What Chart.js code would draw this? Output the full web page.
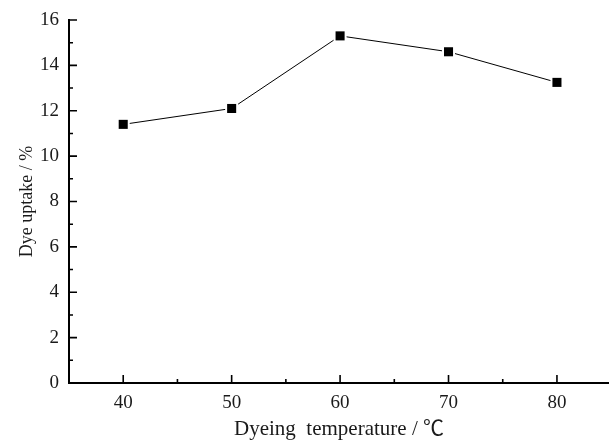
<!DOCTYPE html>
<html><head><meta charset="utf-8">
<script src="https://cdn.jsdelivr.net/npm/chart.js@4/dist/chart.umd.min.js"></script>
<style>html,body{margin:0;padding:0;background:#fff;overflow:hidden}#wrap{width:609px;height:442px;position:relative}</style>
</head><body><div id="wrap"><canvas id="c" width="609" height="442"></canvas></div>
<script>
const temperatures = [40, 50, 60, 70, 80];
const dyeUptake = [11.4, 12.1, 15.3, 14.6, 13.25];
const xMajorTicks = [40, 50, 60, 70, 80];
const xMinorTicks = [45, 55, 65, 75];
const yMajorTicks = [0, 2, 4, 6, 8, 10, 12, 14, 16];
const yMinorTicks = [1, 3, 5, 7, 9, 11, 13, 15];
const xTitle = 'Dyeing  temperature / \u2103';
const yTitle = 'Dye uptake / %';

const FONT = '"Liberation Serif", "Times New Roman", "Noto Sans CJK SC", serif';
const TEXT = '#1a1a1a';
const points = temperatures.map((t, i) => ({x: t, y: dyeUptake[i]}));

const inwardTicks = {
  id: 'inwardTicks',
  afterDraw(chart) {
    const ctx = chart.ctx, xs = chart.scales.x, ys = chart.scales.y;
    const a = chart.chartArea;
    ctx.save();
    ctx.strokeStyle = '#000';
    ctx.lineWidth = 1.6;
    ctx.beginPath();
    const seg = (x1, y1, x2, y2) => { ctx.moveTo(x1, y1); ctx.lineTo(x2, y2); };
    yMajorTicks.forEach(v => { const p = ys.getPixelForValue(v); seg(a.left, p, a.left + 8, p); });
    yMinorTicks.forEach(v => { const p = ys.getPixelForValue(v); seg(a.left, p, a.left + 4, p); });
    xMajorTicks.forEach(v => { const p = xs.getPixelForValue(v); seg(p, a.bottom, p, a.bottom - 8); });
    xMinorTicks.forEach(v => { const p = xs.getPixelForValue(v); seg(p, a.bottom, p, a.bottom - 4); });
    ctx.stroke();
    ctx.restore();
  }
};

new Chart(document.getElementById('c'), {
  type: 'scatter',
  data: {
    datasets: [
      {
        data: points,
        showLine: false,
        pointStyle: 'rect',
        pointRadius: 6.4,
        pointBackgroundColor: '#000',
        pointBorderWidth: 0,
        borderWidth: 0
      },
      {
        data: points,
        showLine: true,
        borderColor: '#000',
        borderWidth: 1,
        pointStyle: 'rect',
        pointRadius: 9.2,
        pointBackgroundColor: '#fff',
        pointBorderWidth: 0
      }
    ]
  },
  options: {
    responsive: false,
    animation: false,
    layout: {autoPadding: false, padding: {top: 20, right: 0, bottom: 0, left: 0}},
    plugins: {legend: {display: false}, tooltip: {enabled: false}},
    scales: {
      x: {
        type: 'linear',
        min: 35,
        max: 84.8,
        afterBuildTicks: s => { s.ticks = xMajorTicks.map(v => ({value: v})); },
        afterFit: s => { s.height = 59; s.paddingLeft = 0; s.paddingRight = 0; },
        grid: {drawOnChartArea: false, drawTicks: false},
        border: {display: true, color: '#000', width: 2},
        ticks: {padding: 9, color: TEXT, font: {family: FONT, size: 19}, maxRotation: 0, autoSkip: false},
        title: {display: true, text: xTitle, color: TEXT, font: {family: FONT, size: 21}, padding: {top: 0, bottom: 0}}
      },
      y: {
        type: 'linear',
        min: 0,
        max: 16,
        afterBuildTicks: s => { s.ticks = yMajorTicks.map(v => ({value: v})); },
        afterFit: s => { s.width = 69; s.paddingTop = 0; s.paddingBottom = 0; },
        grid: {drawOnChartArea: false, drawTicks: false},
        border: {display: true, color: '#000', width: 2},
        ticks: {padding: 10, color: TEXT, font: {family: FONT, size: 19}, autoSkip: false},
        title: {display: true, text: yTitle, color: TEXT, font: {family: FONT, size: 18}, padding: {top: 16, bottom: 0}}
      }
    }
  },
  plugins: [inwardTicks]
});
</script>
</body></html>
